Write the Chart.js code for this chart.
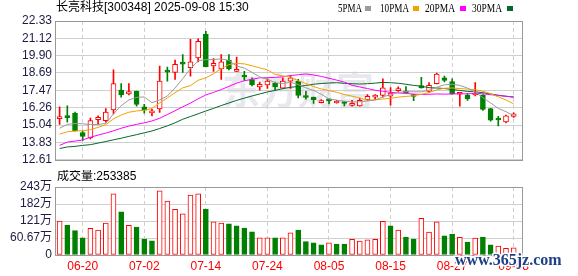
<!DOCTYPE html>
<html>
<head>
<meta charset="utf-8">
<script src="https://cdn.jsdelivr.net/npm/chart.js@4.4.1/dist/chart.umd.min.js"></script>
<style>
body { margin: 0; background: #fff; }
#wrap { position: relative; width: 578px; height: 276px; overflow: hidden; }
canvas { position: absolute; left: 0; }
#kline { top: 0; }
#vol { top: 170px; }
</style>
</head>
<body>
<div id="wrap">
  <canvas id="kline" width="578" height="170"></canvas>
  <canvas id="vol" width="578" height="106"></canvas>
</div>
<script>
// 长亮科技 daily k-line, 06-17 .. 09-08
var title = '长亮科技[300348] 2025-09-08 15:30';
var volLabel = '成交量:253385';

var dates = ['06-17','06-18','06-19','06-20','06-23','06-24','06-25','06-26','06-27','06-30',
  '07-01','07-02','07-03','07-04','07-07','07-08','07-09','07-10','07-11','07-14',
  '07-15','07-16','07-17','07-18','07-21','07-22','07-23','07-24','07-25','07-28',
  '07-29','07-30','07-31','08-01','08-04','08-05','08-06','08-07','08-08','08-11',
  '08-12','08-13','08-14','08-15','08-18','08-19','08-20','08-21','08-22','08-25',
  '08-26','08-27','08-28','08-29','09-01','09-02','09-03','09-04','09-05','09-08'];
var dateTicks = ['06-20','07-02','07-14','07-24','08-05','08-15','08-27','09-08'];

var opens = [15.49,15.65,15.87,14.52,14.14,15.42,15.35,16.10,17.49,17.22,
  17.40,16.32,15.90,16.17,18.82,18.73,19.38,19.07,19.74,21.41,
  19.18,18.98,19.59,18.80,18.48,18.23,17.72,17.85,17.99,17.63,
  18.12,18.12,17.02,17.00,16.61,16.77,16.59,16.61,16.41,16.39,
  16.82,17.00,17.11,17.07,17.45,17.36,17.18,17.81,17.40,17.94,
  18.35,18.08,17.20,17.15,17.15,17.15,16.19,15.42,15.26,15.65];
var highs = [16.32,16.39,15.96,14.64,15.53,15.69,16.19,18.91,17.94,17.94,
  17.42,16.50,16.14,19.18,19.11,19.59,19.97,21.05,21.09,21.61,
  19.70,19.97,19.97,19.81,18.80,18.35,18.06,18.28,18.06,18.35,
  18.51,18.24,17.40,17.00,16.82,16.86,16.77,16.68,16.77,16.93,
  17.18,17.18,18.28,17.67,17.72,17.74,17.20,18.39,18.01,18.69,
  18.48,18.28,17.31,17.27,18.01,17.18,16.21,15.65,15.74,15.90];
var lows = [15.09,15.24,14.61,13.96,14.07,15.09,15.24,15.83,17.00,17.15,
  16.37,15.87,15.69,15.92,18.12,18.24,18.73,18.46,19.47,19.11,
  18.80,18.24,18.91,18.78,18.17,17.79,17.49,17.61,17.49,17.61,
  17.61,16.94,16.86,16.55,16.59,16.53,16.57,16.39,16.37,16.37,
  16.77,16.82,17.00,16.43,17.40,17.27,16.75,17.63,17.34,17.92,
  18.06,17.20,16.37,16.77,17.09,16.07,15.31,14.99,15.20,15.58];
var closes = [15.60,15.56,14.64,14.25,15.35,15.58,15.96,17.94,17.16,17.38,
  16.48,16.08,15.96,18.12,18.75,19.29,19.31,19.47,20.91,19.14,
  19.36,19.47,18.98,18.95,18.41,17.88,17.90,18.12,17.72,18.12,
  18.35,17.11,16.97,16.82,16.73,16.74,16.70,16.55,16.57,16.77,
  17.05,17.07,17.65,17.29,17.60,17.29,17.04,17.65,17.83,18.62,
  18.17,17.22,17.27,16.88,17.27,16.14,15.38,15.40,15.69,15.83];
// volume in 万手
var volumes = [121.5,107,87,61,95,89,114,218,154,106,
  100,57,51,229,192,163,146.5,214,218,164,
  118,114,111,104,96.5,83,61,61,61,61,
  79,89,48,43,36,43,39,39,56,50,
  54,56,120,104,89,64,57,131,82,118,
  68,75,63,46,60,64,36,32,24,25.3];

var ma5 = [14.82,15.09,15.15,15.13,15.08,15.08,15.16,15.82,16.40,16.80,
  16.98,17.01,16.61,16.80,17.08,17.64,18.29,18.99,19.55,19.62,
  19.64,19.67,19.57,19.18,19.03,18.74,18.42,18.25,18.01,17.95,
  18.04,17.88,17.65,17.47,17.20,16.87,16.79,16.71,16.66,16.67,
  16.73,16.80,17.02,17.17,17.33,17.38,17.37,17.37,17.48,17.69,
  17.86,17.90,17.82,17.63,17.36,16.96,16.59,16.21,15.98,15.69];
var ma10 = [14.41,14.57,14.63,14.64,14.72,14.88,15.07,15.47,15.75,15.94,
  16.03,16.08,16.21,16.60,16.94,17.31,17.65,17.80,18.18,18.35,
  18.64,18.98,19.28,19.36,19.33,19.19,19.05,18.91,18.59,18.49,
  18.39,18.15,17.95,17.74,17.57,17.46,17.34,17.18,17.07,16.93,
  16.80,16.80,16.87,16.91,17.00,17.05,17.09,17.20,17.32,17.51,
  17.62,17.64,17.60,17.56,17.52,17.41,17.24,17.02,16.80,16.53];
var ma20 = [13.62,13.85,13.92,14.00,14.19,14.34,14.48,14.64,14.82,14.97,
  15.09,15.20,15.33,15.52,15.78,16.05,16.32,16.58,16.88,17.15,
  17.33,17.53,17.75,17.98,18.14,18.25,18.35,18.36,18.38,18.42,
  18.51,18.57,18.62,18.55,18.45,18.32,18.19,18.05,17.83,17.71,
  17.60,17.48,17.41,17.33,17.29,17.26,17.21,17.19,17.20,17.22,
  17.21,17.22,17.23,17.23,17.26,17.23,17.17,17.11,17.06,17.02];
var ma30 = [13.40,13.51,13.55,13.62,13.67,13.78,13.89,14.01,14.12,14.25,
  14.37,14.50,14.63,14.80,14.99,15.20,15.45,15.64,15.83,16.03,
  16.21,16.41,16.59,16.77,16.93,17.08,17.22,17.36,17.47,17.59,
  17.69,17.74,17.82,17.90,17.95,17.99,18.01,17.96,17.94,17.92,
  17.94,17.98,18.03,18.01,17.97,17.90,17.82,17.76,17.66,17.64,
  17.60,17.53,17.47,17.40,17.37,17.31,17.22,17.13,17.06,16.99];
var seriesNames = ['5PMA', '10PMA', '20PMA', '30PMA'];

var priceTicks = [12.61, 13.83, 15.04, 16.26, 17.47, 18.69, 19.90, 21.12, 22.33];
var volTicks = [0, 60.67, 121.34, 182.01, 242.68];
var volTickLabels = ['0', '60.67万', '121万', '182万', '243万'];

var RED = '#ff0000', GREEN = '#008000', AXIS = '#1c1c44', GRID = '#cfcfcf';
var MA_COLORS = ['#9a9a9a', '#f2a100', '#ff00ff', '#07662a'];

Chart.defaults.font.family = '"Liberation Sans", "Noto Sans CJK SC", sans-serif';
Chart.defaults.font.size = 12;
Chart.defaults.animation = false;

var tickIdx = dateTicks.map(function (d) { return dates.indexOf(d); });

function xAxis(showLabels) {
  return {
    type: 'linear', min: -0.6, max: 60.08, offset: false,
    afterBuildTicks: function (s) { s.ticks = tickIdx.map(function (v) { return { value: v }; }); },
    ticks: { display: showLabels, autoSkip: false, maxRotation: 0, padding: 4, color: RED,
      callback: function (v) { return dates[v]; } },
    grid: { color: GRID, drawTicks: false, offset: false },
    border: { display: false, dash: [4, 3] },
    afterFit: function (s) { s.height = showLabels ? 21 : 0; }
  };
}

function yAxis(min, max, ticks, label) {
  return {
    min: min, max: max,
    afterBuildTicks: function (s) { s.ticks = ticks.map(function (v) { return { value: v }; }); },
    ticks: { padding: 3, color: AXIS, autoSkip: false, callback: label },
    grid: { color: GRID, drawTicks: false },
    border: { display: false },
    afterFit: function (s) { s.width = 55; }
  };
}

function xy(arr) { return arr.map(function (v, i) { return { x: i, y: v }; }); }

var framePlugin = {
  id: 'frame',
  afterDatasetsDraw: function (chart) {
    var a = chart.chartArea, ctx = chart.ctx;
    ctx.save();
    ctx.strokeStyle = '#999999';
    ctx.lineWidth = 1;
    ctx.strokeRect(Math.round(a.left) + 0.5, Math.round(a.top) + 0.5,
      Math.round(a.right - a.left), Math.round(a.bottom - a.top));
    ctx.restore();
  }
};

var headPlugin = {
  id: 'head',
  beforeDatasetsDraw: function (chart) {
    var ctx = chart.ctx;
    ctx.save();
    ctx.font = 'bold 38px "Noto Sans CJK SC"';
    ctx.fillStyle = 'rgba(205,205,215,0.45)';
    ctx.textBaseline = 'middle';
    ctx.fillText('东方财富', 222, 90);
    ctx.restore();
  },
  afterDraw: function (chart) {
    var ctx = chart.ctx;
    ctx.save();
    ctx.textBaseline = 'middle';
    ctx.fillStyle = '#000';
    ctx.font = '12px "Liberation Sans", "Noto Sans CJK SC"';
    ctx.fillText(title, 56, 8);
    var lx = [338, 380, 425, 472], lw = [24, 29, 30, 30], sx = [365, 413, 460, 507];
    ctx.font = '12px "Liberation Serif"';
    seriesNames.forEach(function (n, i) {
      ctx.fillStyle = '#000';
      ctx.fillText(n, lx[i], 9, lw[i]);
      ctx.fillStyle = MA_COLORS[i];
      ctx.fillRect(sx[i], 6, 6, 5);
    });
    ctx.restore();
  }
};

new Chart(document.getElementById('kline'), {
  type: 'bar',
  data: {
    datasets: [
      { type: 'line', data: xy(ma5), borderColor: MA_COLORS[0], borderWidth: 1, pointRadius: 0, order: 0 },
      { type: 'line', data: xy(ma10), borderColor: MA_COLORS[1], borderWidth: 1, pointRadius: 0, order: 0 },
      { type: 'line', data: xy(ma20), borderColor: MA_COLORS[2], borderWidth: 1, pointRadius: 0, order: 0 },
      { type: 'line', data: xy(ma30), borderColor: MA_COLORS[3], borderWidth: 1, pointRadius: 0, order: 0 },
      {
        data: dates.map(function (d, i) { return { x: i, y: [opens[i], closes[i]] }; }),
        backgroundColor: opens.map(function (o, i) { return closes[i] >= o ? '#ffffff' : GREEN; }),
        borderColor: opens.map(function (o, i) { return closes[i] >= o ? RED : GREEN; }),
        borderWidth: 1, borderSkipped: false, barThickness: 5, minBarLength: 2, grouped: false, order: 1
      },
      {
        data: dates.map(function (d, i) { return { x: i, y: [lows[i], highs[i]] }; }),
        backgroundColor: opens.map(function (o, i) { return closes[i] >= o ? RED : GREEN; }),
        borderWidth: 0, barThickness: 1, grouped: false, order: 2
      }
    ]
  },
  options: {
    responsive: false, devicePixelRatio: 1, events: [],
    layout: { padding: { top: 21, right: 56, bottom: 5, left: 0 } },
    plugins: { legend: { display: false }, tooltip: { enabled: false } },
    scales: {
      x: xAxis(false),
      y: yAxis(12.61, 22.33, priceTicks, function (v) { return v.toFixed(2); })
    }
  },
  plugins: [framePlugin, headPlugin]
});

var volPlugin = {
  id: 'volText',
  afterDraw: function (chart) {
    var ctx = chart.ctx;
    ctx.save();
    ctx.textBaseline = 'middle';
    ctx.fillStyle = '#000';
    ctx.font = '12px "Liberation Sans", "Noto Sans CJK SC"';
    ctx.fillText(volLabel, 57, 7);
    ctx.font = 'bold 16px "Liberation Serif"';
    ctx.textBaseline = 'alphabetic';
    ctx.lineWidth = 3;
    ctx.strokeStyle = '#ffffff';
    ctx.strokeText('www.365jz.com', 455, 95, 115);
    ctx.fillStyle = '#1f3f86';
    ctx.fillText('www.365jz.com', 455, 95, 115);
    ctx.restore();
  }
};

new Chart(document.getElementById('vol'), {
  type: 'bar',
  data: {
    datasets: [{
      data: xy(volumes),
      backgroundColor: volumes.map(function (v, i) {
        var ref = i === 0 ? opens[0] : closes[i - 1];
        return closes[i] >= ref ? '#ffffff' : GREEN;
      }),
      borderColor: volumes.map(function (v, i) {
        var ref = i === 0 ? opens[0] : closes[i - 1];
        return closes[i] >= ref ? RED : GREEN;
      }),
      borderWidth: 1, borderSkipped: false, barThickness: 5
    }]
  },
  options: {
    responsive: false, devicePixelRatio: 1, events: [],
    layout: { padding: { top: 17, right: 56, bottom: 0, left: 0 } },
    plugins: { legend: { display: false }, tooltip: { enabled: false } },
    scales: {
      x: xAxis(true),
      y: yAxis(0, 242.68, volTicks, function (v, i) { return volTickLabels[i]; })
    }
  },
  plugins: [framePlugin, volPlugin]
});
</script>
</body>
</html>
